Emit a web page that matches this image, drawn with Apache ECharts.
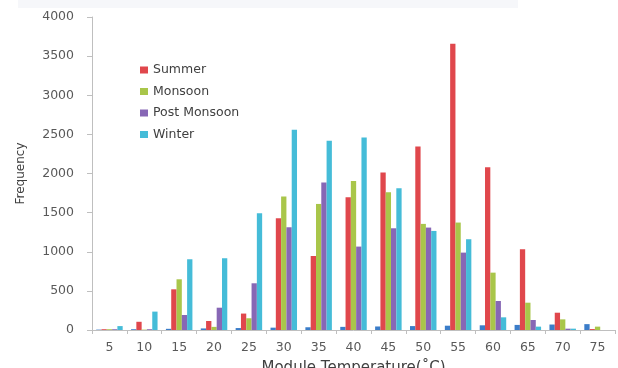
<!DOCTYPE html>
<html>
<head>
<meta charset="utf-8">
<script src="https://cdn.jsdelivr.net/npm/echarts@6/dist/echarts.min.js"></script>
<style>
html,body{margin:0;padding:0;background:#fff;}
#chart{width:618px;height:368px;}
</style>
</head>
<body>
<div id="chart"></div>
<script>
var categories = ['5','10','15','20','25','30','35','40','45','50','55','60','65','70','75'];
var baseSeries = [5, 10, 15, 20, 25, 30, 35, 40, 45, 50, 55, 60, 65, 70, 75];
var summer = [10, 105, 520, 115, 210, 1428, 946, 1697, 2012, 2345, 3658, 2081, 1032, 221, 12];
var monsoon = [10, 5, 648, 40, 150, 1705, 1611, 1905, 1761, 1356, 1373, 733, 349, 136, 43];
var postMonsoon = [10, 10, 192, 285, 597, 1313, 1884, 1066, 1300, 1309, 989, 371, 128, 17, 0];
var winter = [50, 235, 904, 917, 1492, 2558, 2417, 2460, 1812, 1266, 1160, 162, 43, 17, 0];
var yTicks = {min: 0, max: 4000, interval: 500};

var font = 'DejaVu Sans';
var chart = echarts.init(document.getElementById('chart'), null, {renderer: 'canvas'});
function bar(name, data, color) {
  return {name: name, type: 'bar', data: data, barGap: '0%', barCategoryGap: '24%',
    itemStyle: {color: color}, emphasis: {disabled: true}};
}
chart.setOption({
  animation: false,
  backgroundColor: '#ffffff',
  graphic: [{type: 'rect', shape: {x: 18, y: 0, width: 500, height: 8}, style: {fill: '#f6f7fa'}, silent: true, z: -10}],
  grid: {left: 92, right: 3, top: 17, bottom: 38, containLabel: false, outerBoundsMode: 'none'},
  legend: {
    data: ['Summer', 'Monsoon', 'Post Monsoon', 'Winter'],
    orient: 'vertical', left: 135, top: 58,
    itemWidth: 8, itemHeight: 7, itemGap: 7.5,
    icon: 'rect',
    textStyle: {fontFamily: font, fontSize: 12.5, color: '#404040', lineHeight: 14}
  },
  xAxis: {
    type: 'category', data: categories,
    name: 'Module Temperature(˚C)', nameLocation: 'middle', nameGap: 31,
    nameTextStyle: {fontFamily: font, fontSize: 15, color: '#404040'},
    axisLine: {lineStyle: {color: '#bfbfbf'}},
    axisTick: {show: true, length: 4, lineStyle: {color: '#bfbfbf'}},
    axisLabel: {fontFamily: font, fontSize: 12.5, color: '#595959', margin: 11},
    splitLine: {show: false}
  },
  yAxis: {
    type: 'value', min: yTicks.min, max: yTicks.max, interval: yTicks.interval,
    name: 'Frequency', nameLocation: 'middle', nameGap: 65, nameRotate: 90,
    nameTextStyle: {fontFamily: font, fontSize: 12, color: '#404040'},
    axisLine: {show: true, lineStyle: {color: '#bfbfbf'}},
    axisTick: {show: true, length: 5, lineStyle: {color: '#bfbfbf'}},
    axisLabel: {fontFamily: font, fontSize: 12.5, color: '#595959', margin: 18,
      formatter: function (v) { return String(v); }},
    splitLine: {show: false}
  },
  series: [
    bar('Temperature', baseSeries, '#3b7dc9'),
    bar('Summer', summer, '#e0474c'),
    bar('Monsoon', monsoon, '#a9c64a'),
    bar('Post Monsoon', postMonsoon, '#8767b5'),
    bar('Winter', winter, '#45bcd8')
  ]
});
</script>
</body>
</html>
